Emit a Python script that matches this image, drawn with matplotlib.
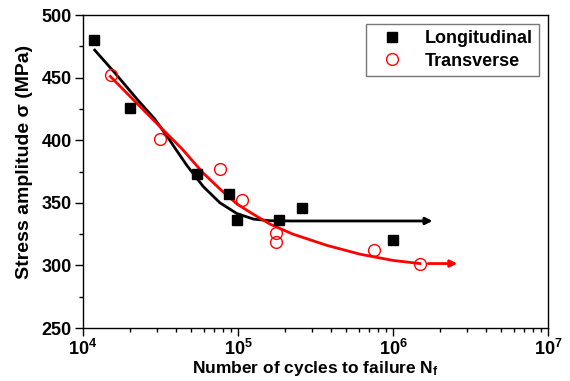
import matplotlib
matplotlib.use("Agg")
import matplotlib.pyplot as plt
from matplotlib.ticker import MultipleLocator, LogLocator

plt.rcParams['font.family'] = ['Liberation Sans', 'DejaVu Sans']
plt.rcParams['font.weight'] = 'bold'
plt.rcParams['mathtext.default'] = 'regular'

# measured points
long_n = [1.18e4, 2.0e4, 5.4e4, 8.7e4, 9.9e4, 1.84e5, 2.6e5, 1.0e6]
long_s = [480, 426, 373, 357, 336, 336, 346, 320]
trans_n = [1.51e4, 3.14e4, 7.65e4, 1.06e5, 1.76e5, 1.76e5, 7.5e5, 1.49e6]
trans_s = [452, 401, 377, 352, 326, 319, 312, 301]

# fitted curves
long_fit_n = [1.19e4, 1.6e4, 2.26e4, 2.9e4, 3.54e4, 3.86e4, 4.67e4, 5.97e4,
              7.65e4, 9.81e4, 1.26e5, 1.61e5, 2.2e5, 1.6e6]
long_fit_s = [472, 454, 432, 417, 402, 395, 380, 363, 350, 341.5, 337, 335.7, 335.5, 335.5]
trans_fit_n = [1.5e4, 2.33e4, 4.36e4, 5.94e4, 7.65e4, 9.86e4, 1.25e5, 1.61e5,
               2.26e5, 3.75e5, 6.12e5, 1.0e6, 1.49e6]
trans_fit_s = [451, 427, 393, 374, 361, 349, 341, 333, 325, 316, 309, 304, 301.5]

# run-out arrows
long_arrow = (1.6e6, 1.8e6, 335.5)
trans_arrow = (1.69e6, 2.6e6, 301.5)

fig = plt.figure(figsize=(5.7, 3.81), dpi=100)
ax = fig.add_axes([0.1456, 0.139, 0.8158, 0.8216])

ax.plot(long_fit_n, long_fit_s, color='black', lw=2)
ax.plot(trans_fit_n, trans_fit_s, color='red', lw=2)
ax.annotate('', xy=(long_arrow[1], long_arrow[2]), xytext=(long_arrow[0], long_arrow[2]),
            arrowprops=dict(arrowstyle='-|>', color='black', lw=2, mutation_scale=10,
                            shrinkA=0, shrinkB=0))
ax.annotate('', xy=(trans_arrow[1], trans_arrow[2]), xytext=(trans_arrow[0], trans_arrow[2]),
            arrowprops=dict(arrowstyle='-|>', color='red', lw=2, mutation_scale=10,
                            shrinkA=0, shrinkB=0))

ax.plot(long_n, long_s, 's', color='black', ms=7, label='Longitudinal')
ax.plot(trans_n, trans_s, 'o', mfc='none', mec='red', mew=1, ms=8.5, label='Transverse')

ax.set_xscale('log')
ax.set_xlim(1e4, 1e7)
ax.set_ylim(250, 500)
ax.yaxis.set_major_locator(MultipleLocator(50))
ax.yaxis.set_minor_locator(MultipleLocator(25))
ax.xaxis.set_minor_locator(LogLocator(base=10, subs=range(2, 10)))

ax.tick_params(which='both', direction='out', top=False, right=False, labelsize=13, width=1)
ax.tick_params(which='major', length=6, pad=2)
ax.tick_params(which='minor', length=3)
for lbl in ax.get_xticklabels() + ax.get_yticklabels():
    lbl.set_fontweight('bold')
for sp in ax.spines.values():
    sp.set_linewidth(1)

ax.set_xlabel(r'Number of cycles to failure N$_f$', fontsize=12.5, fontweight='bold', labelpad=0)
ax.set_ylabel('Stress amplitude σ (MPa)', fontsize=14, fontweight='bold')
ax.yaxis.set_label_coords(-0.108, 0.53)

leg = ax.legend(loc='upper right', fontsize=13, frameon=True, fancybox=False,
                edgecolor='#555555', handletextpad=0.7, handlelength=2.2, borderpad=0.35,
                labelspacing=0.3, borderaxespad=0.5)
leg.get_frame().set_linewidth(1)

fig.savefig('out.png', dpi=100)
